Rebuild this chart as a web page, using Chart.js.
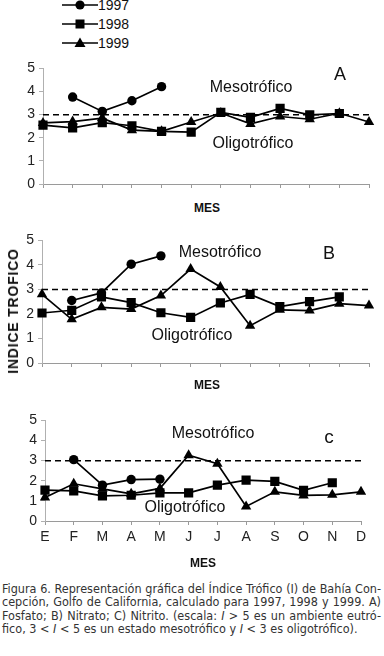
<!DOCTYPE html>
<html>
<head>
<meta charset="utf-8">
<script src="https://cdn.jsdelivr.net/npm/chart.js@4/dist/chart.umd.min.js"></script>
<style>
  body { margin: 0; background: #fff; }
  #page { position: relative; width: 384px; height: 656px; overflow: hidden; font-family: "Liberation Sans", Arial, sans-serif; color: #111; }
  canvas { position: absolute; left: 0; }
  .t { position: absolute; white-space: nowrap; transform: translate(-50%, -50%); }
  .zona { font-size: 16px; }
  .letra { font-size: 18px; }
  .mes { font-size: 12px; font-weight: bold; }
  .leg { position: absolute; left: 62px; height: 14px; font-size: 14px; line-height: 14px; }
  .leg svg { vertical-align: top; margin-top: 1px; }
  #ytit { font-size: 14px; font-weight: bold; letter-spacing: 0.8px; transform: translate(-50%, -50%) rotate(-90deg); }
  #pie { position: absolute; left: 2px; top: 582px; width: 379px; font-family: "Liberation Sans Narrow", "DejaVu Sans Condensed", sans-serif; font-size: 12.5px; line-height: 13.3px; color: #333; }
  #pie div { text-align: justify; text-align-last: justify; white-space: nowrap; }
  #pie div.ult { text-align-last: left; }
</style>
</head>
<body>
<div id="page">
  <div class="leg" style="top:-2px"><svg width="36" height="12"><line x1="0" y1="6" x2="36" y2="6" stroke="#000" stroke-width="1.7"/><circle cx="18" cy="6" r="4.6"/></svg>1997</div>
  <div class="leg" style="top:17px"><svg width="36" height="12"><line x1="0" y1="6" x2="36" y2="6" stroke="#000" stroke-width="1.7"/><rect x="13.5" y="1.5" width="9" height="9"/></svg>1998</div>
  <div class="leg" style="top:36px"><svg width="36" height="12"><line x1="0" y1="6" x2="36" y2="6" stroke="#000" stroke-width="1.7"/><polygon points="18,0.5 23.5,10 12.5,10"/></svg>1999</div>

  <canvas id="cA" width="384" height="144" style="top:56px"></canvas>
  <canvas id="cB" width="384" height="150" style="top:228px"></canvas>
  <canvas id="cC" width="384" height="140" style="top:408px"></canvas>

  <div class="t zona" style="left:251px; top:87px">Mesotrófico</div>
  <div class="t zona" style="left:253px; top:143px">Oligotrófico</div>
  <div class="t letra" style="left:340px; top:74px">A</div>
  <div class="t mes" style="left:207px; top:208px">MES</div>

  <div class="t zona" style="left:220px; top:252px">Mesotrófico</div>
  <div class="t zona" style="left:192px; top:335px">Oligotrófico</div>
  <div class="t letra" style="left:329px; top:253px">B</div>
  <div class="t mes" style="left:207px; top:385px">MES</div>

  <div class="t zona" style="left:213px; top:433px">Mesotrófico</div>
  <div class="t zona" style="left:185px; top:507px">Oligotrófico</div>
  <div class="t letra" style="left:329px; top:437px; font-size:19px">c</div>
  <div class="t mes" style="left:203px; top:563px">MES</div>

  <div class="t" id="ytit" style="left:13px; top:311px">INDICE TROFICO</div>

  <div id="pie">
    <div>Figura 6. Representación gráfica del Índice Trófico (I) de Bahía Con-</div>
    <div>cepción, Golfo de California, calculado para 1997, 1998 y 1999. A)</div>
    <div>Fosfato; B) Nitrato; C) Nitrito. (escala: <i>I</i> &gt; 5 es un ambiente eutró-</div>
    <div class="ult">fico, 3 &lt; <i>I</i> &lt; 5 es un estado mesotrófico y <i>I</i> &lt; 3 es oligotrófico).</div>
  </div>
</div>

<script>
// meses
var meses = ['E', 'F', 'M', 'A', 'M', 'J', 'J', 'A', 'S', 'O', 'N', 'D'];
// limite mesotrofico / oligotrofico
var umbral = [3, 3, 3, 3, 3, 3, 3, 3, 3, 3, 3, 3];

// A) Fosfato
var fosfato1997 = [null, 3.76, 3.14, 3.6, 4.21, null, null, null, null, null, null, null];
var fosfato1998 = [2.55, 2.43, 2.65, 2.52, 2.28, 2.24, 3.1, 2.88, 3.27, 2.99, 3.05, null];
var fosfato1999 = [2.64, 2.7, 2.85, 2.33, 2.28, 2.68, 3.07, 2.6, 2.92, 2.8, 3.06, 2.68];

// B) Nitrato
var nitrato1997 = [null, 2.55, 2.86, 4.03, 4.37, null, null, null, null, null, null, null];
var nitrato1998 = [2.04, 2.15, 2.7, 2.46, 2.05, 1.86, 2.45, 2.8, 2.3, 2.5, 2.7, null];
var nitrato1999 = [2.8, 1.78, 2.27, 2.2, 2.75, 3.83, 3.1, 1.52, 2.17, 2.14, 2.42, 2.34];

// C) Nitrito
var nitrito1997 = [null, 3.05, 1.78, 2.06, 2.08, null, null, null, null, null, null, null];
var nitrito1998 = [1.53, 1.5, 1.25, 1.28, 1.4, 1.4, 1.78, 2.03, 1.97, 1.52, 1.9, null];
var nitrito1999 = [1.17, 1.85, 1.6, 1.35, 1.62, 3.27, 2.85, 0.72, 1.45, 1.27, 1.3, 1.45];

function serie(data, estilo, radio) {
  return {
    data: data,
    borderColor: '#000',
    backgroundColor: '#000',
    borderWidth: 1.7,
    pointStyle: estilo,
    pointRadius: radio,
    pointBorderWidth: 0,
    spanGaps: false,
    tension: 0
  };
}

function grafica(id, d97, d98, d99, opt) {
  var ctx = document.getElementById(id).getContext('2d');
  return new Chart(ctx, {
    type: 'line',
    data: {
      labels: meses,
      datasets: [
        serie(d97, 'circle', 4.7),
        serie(d98, 'rect', 6.5),
        serie(d99, 'triangle', 6),
        {
          data: umbral,
          borderColor: '#000',
          borderWidth: 1.5,
          borderDash: [6, 4],
          pointRadius: 0
        }
      ]
    },
    options: {
      responsive: false,
      animation: false,
      layout: { padding: { left: 0, right: opt.right, top: opt.top, bottom: 0 } },
      plugins: { legend: { display: false }, tooltip: { enabled: false } },
      scales: {
        x: {
          offset: false,
          afterFit: function(s) { s.height = opt.xh; },
          border: { color: '#9a9a9a', width: 1 },
          grid: { drawOnChartArea: false, drawTicks: true, tickLength: 4, color: '#9a9a9a' },
          ticks: {
            display: opt.labels,
            padding: 4,
            maxRotation: 0,
            autoSkip: false,
            color: '#222',
            font: { family: 'Liberation Sans, Arial, sans-serif', size: 14 }
          }
        },
        y: {
          min: 0,
          max: 5,
          afterFit: function(s) { s.width = opt.left; },
          border: { color: '#b0b0b0', width: 1 },
          grid: { drawOnChartArea: false, drawTicks: true, tickLength: 4, color: '#b0b0b0' },
          ticks: {
            stepSize: 1,
            padding: 4,
            color: '#222',
            font: { family: 'Liberation Sans, Arial, sans-serif', size: 14 }
          }
        }
      }
    }
  });
}

grafica('cA', fosfato1997, fosfato1998, fosfato1999, { left: 43, right: 15, top: 10, xh: 16, labels: false });
grafica('cB', nitrato1997, nitrato1998, nitrato1999, { left: 42, right: 15, top: 12, xh: 15, labels: false });
grafica('cC', nitrito1997, nitrito1998, nitrito1999, { left: 45, right: 23, top: 12, xh: 27, labels: true });
</script>
</body>
</html>
